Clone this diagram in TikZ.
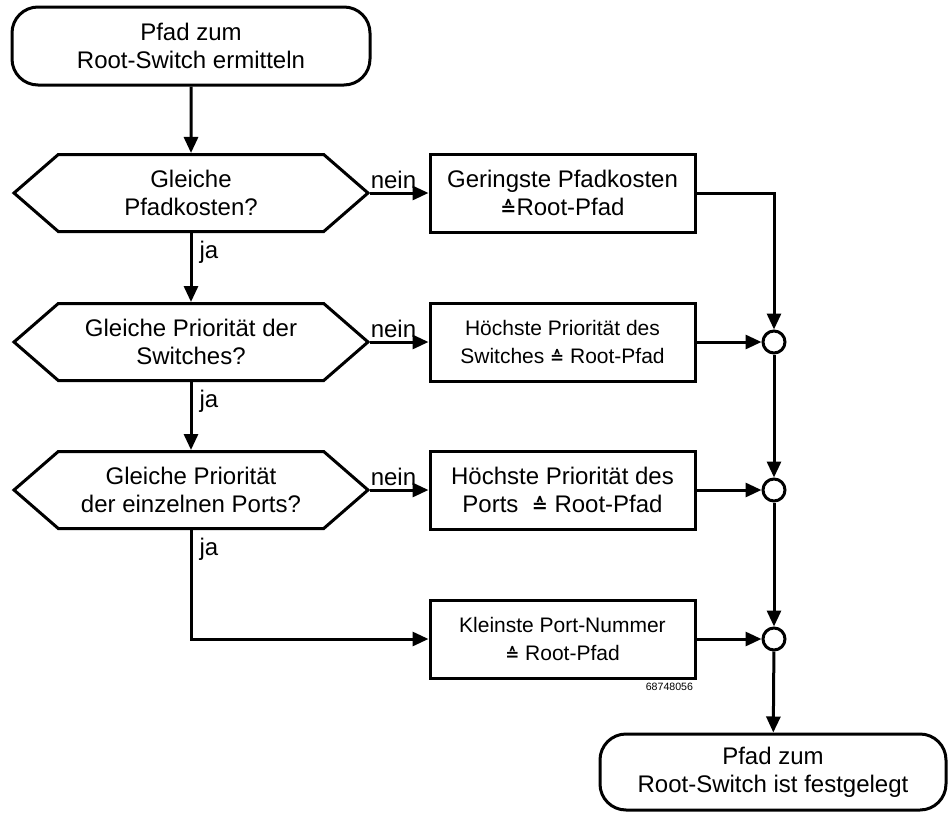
\documentclass[tikz,border=0pt]{standalone}
\usepackage{fontspec}
\setmainfont{Liberation Sans}
\newfontfamily\symbfont{DejaVu Sans}
\usetikzlibrary{arrows.meta,shapes.symbols}

% "entspricht" sign
\newcommand{\entspr}{\scalebox{0.8}{\symbfont\bfseries\char"2259}}

\begin{document}
\begin{tikzpicture}[
    x=0.5pt, y=-0.5pt,
    font=\fontsize{12}{14}\selectfont,
    line width=1.5pt,
    >={Triangle[length=8pt,width=7pt]},
    term/.style={draw, rounded corners=13pt, align=center,
      minimum width=179pt, minimum height=39pt},
    quest/.style={draw, shape=signal, signal to=west and east,
      signal pointer angle=82, align=center, inner sep=0pt,
      minimum width=177pt, minimum height=38.5pt},
    act/.style={draw, rectangle, align=center,
      minimum width=132.5pt, minimum height=39pt},
    small/.style={font=\fontsize{10.5}{14}\selectfont},
    junc/.style={draw, circle, fill=white, minimum size=11pt, inner sep=0pt},
    lab/.style={inner sep=1.5pt},
  ]
  \useasboundingbox (0,0) rectangle (949,814);

  %% ---- start, the three questions and the end ------------------------
  \node[term] (start) at (191,46) {Pfad zum\\Root-Switch ermitteln};
  \node[quest] (q1) at (191,193) {Gleiche\\Pfadkosten?};
  \node[quest] (q2) at (191,342) {Gleiche Priorität der\\Switches?};
  \node[quest] (q3) at (191,490) {Gleiche Priorität\\der einzelnen Ports?};
  \node[term, minimum width=173pt, minimum height=38pt] (stop) at (773,772)
    {Pfad zum\\Root-Switch ist festgelegt};

  %% ---- decisions -------------------------------------------------------
  \node[act] (r1) at (562.5,193) {Geringste Pfadkosten\\\entspr Root-Pfad};
  \node[act, small] (r2) at (562.5,342)
    {Höchste Priorität des\\Switches \entspr{} Root-Pfad};
  \node[act] (r3) at (562.5,490)
    {Höchste Priorität des\\Ports \ \entspr{} Root-Pfad};
  \node[act, small] (r4) at (562.5,639) {Kleinste Port-Nummer\\\entspr{} Root-Pfad};
  \node[anchor=north east, inner sep=1pt, font=\fontsize{5.3}{6}\selectfont]
    (figno) at (r4.south east) {68748056};

  \node[junc] (j1) at (774,342) {};
  \node[junc] (j2) at (774,490) {};
  \node[junc] (j3) at (774,639) {};

  %% ---- "ja" branch down the left ---------------------------------------
  \draw[->] (start) -- (q1);
  \draw[->] (q1.south) -- node[lab, pos=0, anchor=north west, xshift=2pt, yshift=-2pt] {ja} (q2.north);
  \draw[->] (q2.south) -- node[lab, pos=0, anchor=north west, xshift=2pt, yshift=-2pt] {ja} (q3.north);
  \draw[->] (q3.south) |- node[lab, pos=0, anchor=north west, xshift=2pt, yshift=-2pt] {ja} (r4.west);

  %% ---- "nein" branches --------------------------------------------------
  \draw[->] (q1.east) -- node[lab, pos=0, anchor=south west, xshift=-2pt] {nein} (r1.west);
  \draw[->] (q2.east) -- node[lab, pos=0, anchor=south west, xshift=-2pt] {nein} (r2.west);
  \draw[->] (q3.east) -- node[lab, pos=0, anchor=south west, xshift=-2pt] {nein} (r3.west);

  %% ---- collecting line on the right -------------------------------------
  \draw[->] (r1.east) -| (j1);
  \draw[->] (r2) -- (j1);
  \draw[->] (r3) -- (j2);
  \draw[->] (r4) -- (j3);
  \draw[->] (j1) -- (j2);
  \draw[->] (j2) -- (j3);
  \draw[->] (j3) -- (stop);
\end{tikzpicture}
\end{document}
